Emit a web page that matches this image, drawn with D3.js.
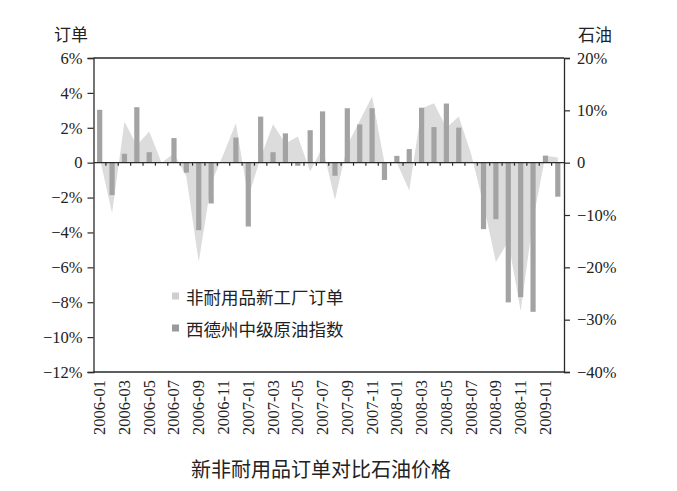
<!DOCTYPE html>
<html>
<head>
<meta charset="utf-8">
<script src="https://cdn.jsdelivr.net/npm/d3@7/dist/d3.min.js"></script>
<style>
  html, body { margin: 0; padding: 0; background: #fff; }
  svg { display: block; }
  .serif { font-family: "Liberation Serif", "DejaVu Serif", serif; }
  .cjk { font-family: "Noto Sans CJK SC", sans-serif; }
</style>
</head>
<body>
<svg id="chart" width="677" height="491"></svg>
<script>
// ---- data ----
const months = [
  "2006-01","2006-02","2006-03","2006-04","2006-05","2006-06","2006-07","2006-08","2006-09","2006-10","2006-11","2006-12",
  "2007-01","2007-02","2007-03","2007-04","2007-05","2007-06","2007-07","2007-08","2007-09","2007-10","2007-11","2007-12",
  "2008-01","2008-02","2008-03","2008-04","2008-05","2008-06","2008-07","2008-08","2008-09","2008-10","2008-11","2008-12",
  "2009-01","2009-02"
];
// 非耐用品新工厂订单 (left axis, %), drawn as light area
const orders = [
  0.3, -2.9, 2.35, 1.0, 1.78, 0.0, 0.54, -0.8, -5.7, -1.2, 0.5, 2.26,
  -2.0, 0.3, 2.2, 1.1, 1.5, -0.5, 0.9, -2.14, 1.0, 2.4, 3.8, 0.0,
  0.0, -1.6, 3.1, 3.4, 2.0, 2.64, 0.5, -2.4, -5.7, -4.5, -8.5, -3.3,
  0.4, 0.3
];
// 西德州中级原油指数 (right axis, %), drawn as dark bars
const oil = [
  10.1, -6.2, 1.7, 10.6, 2.0, 0.0, 4.7, -1.9, -12.9, -7.8, 0.0, 4.8,
  -12.2, 8.8, 2.0, 5.6, -0.6, 6.2, 9.8, -2.5, 10.4, 7.3, 10.4, -3.3,
  1.3, 2.6, 10.5, 6.8, 11.3, 6.7, 0.0, -12.7, -10.8, -26.7, -25.7, -28.5,
  1.35, -6.5
];
const leftTicks = [6, 4, 2, 0, -2, -4, -6, -8, -10, -12];
const rightTicks = [20, 10, 0, -10, -20, -30, -40];
const xLabels = months.filter((m, i) => i % 2 === 0);
const seriesNames = ["非耐用品新工厂订单", "西德州中级原油指数"];
const leftTitle = "订单";
const rightTitle = "石油";
const chartTitle = "新非耐用品订单对比石油价格";

// ---- layout ----
const L = 93.5, R = 564, T = 58, B = 372;
const axisColor = "#2a2a2a";
const barColor = "#a3a3a3";
const areaColor = "#dcdcdc";

const svg = d3.select("#chart");

const x = d3.scaleBand().domain(months).range([L, R]).paddingInner(0.58).paddingOuter(0.29);
const yL = d3.scaleLinear().domain([-12, 6]).range([B, T]);
const yR = d3.scaleLinear().domain([-40, 20]).range([B, T]);
const cx = m => x(m) + x.bandwidth() / 2;

const fmt = d => d === 0 ? "0" : (d < 0 ? "\u2212" + Math.abs(d) : d) + "%";

// area (orders)
const areaData = months.map((m, i) => ({ m, v: orders[i] }));
svg.append("path")
  .datum(areaData)
  .attr("fill", areaColor)
  .attr("d", d3.area().x(d => cx(d.m)).y0(yL(0)).y1(d => yL(d.v)));

// bars (oil)
svg.append("g").selectAll("rect")
  .data(months.map((m, i) => ({ m, v: oil[i] })))
  .join("rect")
  .attr("x", d => x(d.m))
  .attr("width", x.bandwidth())
  .attr("y", d => Math.min(yR(d.v), yR(0)))
  .attr("height", d => Math.abs(yR(d.v) - yR(0)))
  .attr("fill", barColor);

// frame top & bottom
svg.append("line").attr("x1", L).attr("x2", R).attr("y1", T).attr("y2", T)
  .attr("stroke", axisColor).attr("stroke-width", 1.3);
svg.append("line").attr("x1", L).attr("x2", R).attr("y1", B).attr("y2", B)
  .attr("stroke", axisColor).attr("stroke-width", 1.3);

// zero line with category ticks
svg.append("line").attr("x1", L).attr("x2", R).attr("y1", yL(0)).attr("y2", yL(0))
  .attr("stroke", axisColor).attr("stroke-width", 1.2);
svg.append("g").selectAll("line")
  .data(months.slice(1))
  .join("line")
  .attr("x1", m => cx(m) - x.step() / 2)
  .attr("x2", m => cx(m) - x.step() / 2)
  .attr("y1", yL(0)).attr("y2", yL(0) + 3)
  .attr("stroke", axisColor).attr("stroke-width", 1.2);

// left axis
const gL = svg.append("g").attr("transform", `translate(${L},0)`)
  .call(d3.axisLeft(yL).tickValues(leftTicks).tickSize(6).tickPadding(5).tickFormat(fmt));
// right axis
const gR = svg.append("g").attr("transform", `translate(${R},0)`)
  .call(d3.axisRight(yR).tickValues(rightTicks).tickSize(6).tickPadding(7).tickFormat(fmt));
[gL, gR].forEach(g => {
  g.attr("font-family", null).attr("font-size", null).classed("serif", true);
  g.select(".domain").attr("stroke", axisColor).attr("stroke-width", 1.3);
  g.selectAll(".tick line").attr("stroke", axisColor).attr("stroke-width", 1.2);
  g.selectAll(".tick text").attr("class", "serif").style("font-size", "16.5px").attr("fill", "#222");
});

// x labels (rotated)
svg.append("g").selectAll("text")
  .data(xLabels)
  .join("text")
  .attr("class", "serif")
  .attr("transform", m => `translate(${cx(m)},380) rotate(-90)`)
  .attr("text-anchor", "end")
  .attr("dominant-baseline", "central")
  .style("font-size", "16.5px")
  .attr("fill", "#222")
  .text(m => m);

// axis titles
svg.append("text").attr("class", "cjk").attr("x", 71).attr("y", 33)
  .attr("text-anchor", "middle").attr("dominant-baseline", "central")
  .style("font-size", "17px").attr("fill", "#222").text(leftTitle);
svg.append("text").attr("class", "cjk").attr("x", 595).attr("y", 33)
  .attr("text-anchor", "middle").attr("dominant-baseline", "central")
  .style("font-size", "17px").attr("fill", "#222").text(rightTitle);

// legend
const legendY = [296, 328];
seriesNames.forEach((name, i) => {
  svg.append("rect").attr("x", 172).attr("y", legendY[i] - 3.5).attr("width", 7).attr("height", 7)
    .attr("fill", i === 0 ? "#cfcfcf" : "#9a9a9a");
  svg.append("text").attr("class", "cjk").attr("x", 186).attr("y", legendY[i])
    .attr("dominant-baseline", "central")
    .style("font-size", "17.5px").attr("fill", "#222").text(name);
});

// title
svg.append("text").attr("class", "cjk").attr("x", 321).attr("y", 468)
  .attr("text-anchor", "middle").attr("dominant-baseline", "central")
  .style("font-size", "20px").attr("fill", "#222").text(chartTitle);
</script>
</body>
</html>
